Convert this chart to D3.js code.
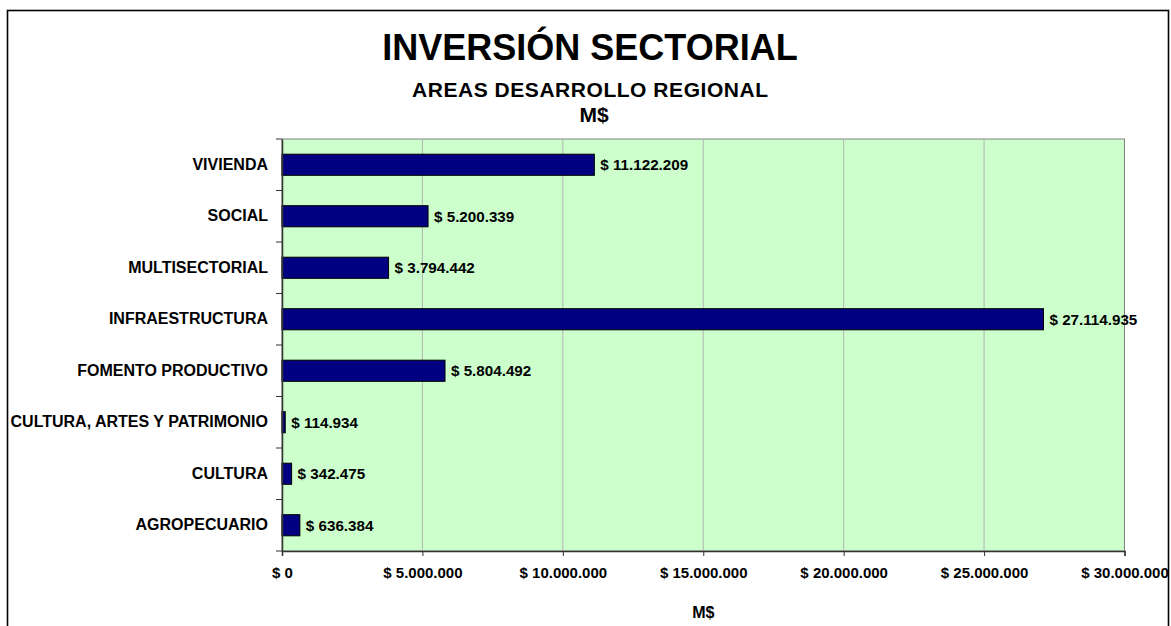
<!DOCTYPE html>
<html>
<head>
<meta charset="utf-8">
<script src="https://cdn.jsdelivr.net/npm/d3@7/dist/d3.min.js"></script>
<style>
  html, body { margin: 0; padding: 0; background: #ffffff; }
  svg { display: block; }
  text { font-family: "Liberation Sans", Arial, Helvetica, sans-serif; font-weight: bold; fill: #000; }
</style>
</head>
<body>
<svg id="chart" width="1171" height="626"></svg>
<script>
// ---- data ----
const categories = ["VIVIENDA", "SOCIAL", "MULTISECTORIAL", "INFRAESTRUCTURA",
  "FOMENTO PRODUCTIVO", "CULTURA, ARTES Y PATRIMONIO", "CULTURA", "AGROPECUARIO"];
const values = [11122209, 5200339, 3794442, 27114935, 5804492, 114934, 342475, 636384];
const xTicks = [0, 5000000, 10000000, 15000000, 20000000, 25000000, 30000000];
const titleText = "INVERSIÓN SECTORIAL";
const subtitleText = "AREAS DESARROLLO REGIONAL";
const unitText = "M$";
const xAxisTitle = "M$";

// ---- layout ----
const plot = { left: 282, right: 1124.5, top: 139, bottom: 551 };

const svg = d3.select("#chart");
const loc = d3.formatLocale({ decimal: ",", thousands: ".", grouping: [3], currency: ["$", ""] });
const fmt = v => "$ " + loc.format(",d")(v);

// outer frame
svg.append("rect")
  .attr("x", 7.5).attr("y", 10.5)
  .attr("width", 1161).attr("height", 700)
  .attr("fill", "#fff").attr("stroke", "#000").attr("stroke-width", 1.6);

// scales
const x = d3.scaleLinear().domain([0, 30000000]).range([plot.left, plot.right]);
const y = d3.scaleBand().domain(categories).range([plot.top, plot.bottom])
  .paddingInner(0.59).paddingOuter(0.295);

// plot background
svg.append("rect")
  .attr("x", plot.left).attr("y", plot.top)
  .attr("width", plot.right - plot.left).attr("height", plot.bottom - plot.top)
  .attr("fill", "#ccffcc").attr("stroke", "#808080").attr("stroke-width", 1);

// gridlines
svg.append("g").selectAll("line")
  .data(xTicks.filter(t => t > 0 && t < 30000000))
  .join("line")
  .attr("x1", d => x(d)).attr("x2", d => x(d))
  .attr("y1", plot.top).attr("y2", plot.bottom)
  .attr("stroke", "#b4b4b4").attr("stroke-width", 1);

// bars
svg.append("g").selectAll("rect")
  .data(categories.map((c, i) => ({ c, v: values[i] })))
  .join("rect")
  .attr("x", x(0))
  .attr("y", d => y(d.c))
  .attr("width", d => x(d.v) - x(0))
  .attr("height", y.bandwidth())
  .attr("fill", "#000080")
  .attr("stroke", "#000").attr("stroke-width", 1);

// value labels
svg.append("g").selectAll("text")
  .data(categories.map((c, i) => ({ c, v: values[i] })))
  .join("text")
  .attr("x", d => x(d.v) + 6)
  .attr("y", d => y(d.c) + y.bandwidth() / 2)
  .attr("dy", "0.36em")
  .attr("font-size", "15.2px")
  .text(d => fmt(d.v));

// x axis
const xAxis = d3.axisBottom(x).tickValues(xTicks).tickSize(5).tickFormat(fmt);
const gx = svg.append("g").attr("transform", `translate(0,${plot.bottom})`).call(xAxis);
gx.select(".domain").attr("stroke", "#333").attr("stroke-width", 1.5);
gx.selectAll(".tick line").attr("stroke", "#333");
gx.selectAll(".tick text")
  .attr("y", 26.5).attr("dy", 0)
  .attr("font-size", "15px")
  .attr("font-family", "'Liberation Sans', Arial, sans-serif")
  .attr("font-weight", "bold")
  .attr("fill", "#000");

// y axis (labels)
const yAxis = d3.axisLeft(y).tickSize(0).tickPadding(14);
const gy = svg.append("g").attr("transform", `translate(${plot.left},0)`).call(yAxis);
gy.select(".domain").attr("stroke", "#333").attr("stroke-width", 1.5);
gy.selectAll(".tick text")
  .attr("font-size", "16px")
  .attr("font-family", "'Liberation Sans', Arial, sans-serif")
  .attr("font-weight", "bold")
  .attr("fill", "#000");

// y axis category-boundary ticks
const bounds = categories.map(c => y(c) + y.bandwidth() / 2 - y.step() / 2)
  .concat([y(categories[categories.length - 1]) + y.bandwidth() / 2 + y.step() / 2]);
svg.append("g").selectAll("line")
  .data(bounds).join("line")
  .attr("x1", plot.left - 6).attr("x2", plot.left)
  .attr("y1", d => d).attr("y2", d => d)
  .attr("stroke", "#333").attr("stroke-width", 1);

// titles
svg.append("text")
  .attr("x", 590).attr("y", 59.5)
  .attr("text-anchor", "middle")
  .attr("font-size", "36px")
  .text(titleText);
svg.append("text")
  .attr("x", 590).attr("y", 96.5)
  .attr("text-anchor", "middle")
  .attr("font-size", "21px")
  .attr("textLength", 356).attr("lengthAdjust", "spacing")
  .text(subtitleText);
svg.append("text")
  .attr("x", 594).attr("y", 122)
  .attr("text-anchor", "middle")
  .attr("font-size", "21px")
  .text(unitText);

// x axis title
svg.append("text")
  .attr("x", (plot.left + plot.right) / 2).attr("y", 618)
  .attr("text-anchor", "middle")
  .attr("font-size", "16px")
  .text(xAxisTitle);
</script>
</body>
</html>
